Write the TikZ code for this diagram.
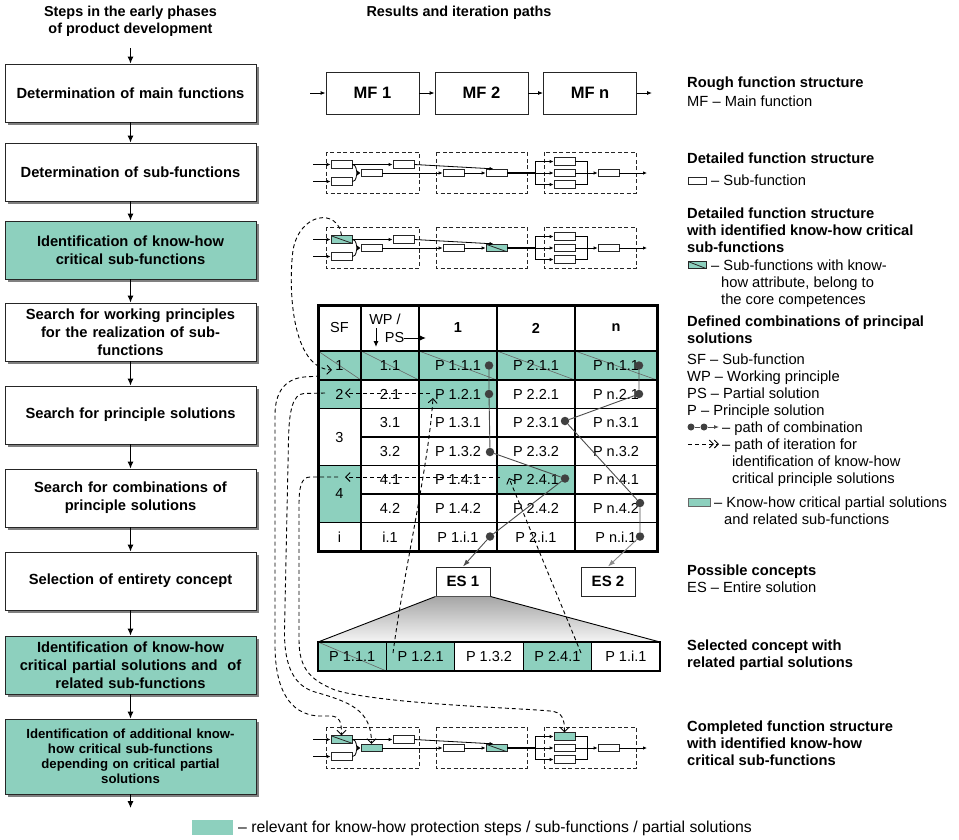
\documentclass[tikz,border=0pt]{standalone}
\usepackage{fontspec}
\setmainfont{Liberation Sans}
\usetikzlibrary{arrows.meta,shadows,calc}
\definecolor{kteal}{RGB}{141,208,190}
\newcommand{\fsz}[2]{\fontsize{#1pt}{#2pt}\selectfont}

\tikzset{
  stepbox/.style={draw=black!85, line width=0.9pt, fill=white, minimum width=251pt, minimum height=58pt,
    text width=244pt, align=center, inner sep=0pt, font=\bfseries\fsz{14.7}{18},
    drop shadow={shadow xshift=3pt, shadow yshift=-3pt, fill=black!50, opacity=1}},
  keystep/.style={stepbox, fill=kteal},
  flow/.style={-{Latex[length=7pt,width=6pt]}, line width=1pt},
  mfbox/.style={draw=black!85, line width=0.9pt, minimum width=93pt, minimum height=42pt, font=\bfseries\fsz{16.5}{19}},
  mfarrow/.style={-{Latex[length=5pt,width=4pt]}, line width=0.9pt},
  grp/.style={draw=black!85, dash pattern=on 4pt off 2.5pt, line width=0.8pt},
  sub/.style={draw=black!85, line width=0.8pt, fill=white, minimum width=21pt, minimum height=7.5pt, inner sep=0pt},
  critical/.style={fill=kteal},
  hatched/.style={fill=kteal, path picture={\draw[line width=0.8pt] (path picture bounding box.north west) -- (path picture bounding box.south east);}},
  fline/.style={line width=0.8pt},
  fmain/.style={line width=1.5pt},
  farrow/.style={-{Latex[length=4pt,width=3.5pt]}, line width=0.8pt},
  tcell/.style={font=\fsz{14.5}{16}, inner sep=0pt},
  thead/.style={font=\bfseries\fsz{14.5}{16}, inner sep=0pt},
  tgrid/.style={line width=1.2pt},
  diag/.style={draw=black!60, line width=0.6pt},
  cdot/.style={circle, fill=black!75, inner sep=0pt, minimum size=8.5pt},
  cline/.style={draw=black!70, line width=0.9pt},
  iter/.style={dash pattern=on 4pt off 3pt, line width=0.9pt},
  itip/.style={-{Straight Barb[length=4.5pt,width=9pt,line width=0.9pt]}},
  esbox/.style={draw=black!85, line width=1pt, fill=white, minimum width=54pt, minimum height=29pt, font=\bfseries\fsz{15}{17}},
  stripcell/.style={draw=black, line width=1.2pt, minimum width=68.4pt, minimum height=29pt, font=\fsz{14.5}{16}, inner sep=0pt},
  lgb/.style={anchor=base west, font=\bfseries\fsz{14.7}{17}, inner sep=0pt},
  lgt/.style={anchor=base west, font=\fsz{14.7}{17}, inner sep=0pt},
}

% one detailed function structure: prefix, vertical offset, styles of boxes a, c, f and g
\newcommand{\fsdiagram}[6]{%
\begin{scope}[shift={(0,#2)}]
  \draw[grp] (326,152) rectangle (419,193);
  \draw[grp] (436,152) rectangle (527,193);
  \draw[grp] (544,152) rectangle (636,193);
  \node[sub,#3] (#1a) at (341.5,164.5) {};
  \node[sub] (#1b) at (341.5,181.5) {};
  \node[sub,#4] (#1c) at (371.5,173) {};
  \node[sub] (#1d) at (403.5,164.5) {};
  \node[sub] (#1e) at (453.5,173) {};
  \node[sub,#5] (#1f) at (496.5,173) {};
  \node[sub,#6] (#1g) at (564.5,161.5) {};
  \node[sub] (#1h) at (564.5,173) {};
  \node[sub] (#1k) at (564.5,184.5) {};
  \node[sub] (#1m) at (608.5,173) {};
  \coordinate (#1i1) at (313,164.5);
  \coordinate (#1i2) at (313,181.5);
  \coordinate (#1j1) at (535,161.5);
  \coordinate (#1j2) at (535,173);
  \coordinate (#1j3) at (535,184.5);
  \coordinate (#1r1) at (587,161.5);
  \coordinate (#1r2) at (587,173);
  \coordinate (#1r3) at (587,184.5);
  \coordinate (#1o) at (647,173);
  \draw[farrow] (#1i1) -- (#1a.west);
  \draw[farrow] (#1i2) -- (#1b.west);
  \draw[farrow] (#1a.east) -- (#1d.west);
  \draw[farrow] (#1a.east) .. controls (357,164.5) and (356,172) .. (#1c.west);
  \draw[farrow] (#1b.east) .. controls (357,181.5) and (356,174) .. (#1c.west);
  \draw[farrow] (#1d.east) -- ([xshift=-3pt]#1f.north);
  \draw[farrow] (#1c.east) -- (#1e.west);
  \draw[farrow] (#1e.east) -- (#1f.west);
  \draw[fmain] (#1f.east) -- (#1j2);
  \draw[fline] (#1j1) -- (#1j3);
  \draw[farrow] (#1j1) -- (#1g.west);
  \draw[farrow] (#1j2) -- (#1h.west);
  \draw[farrow] (#1j3) -- (#1k.west);
  \draw[fline] (#1g.east) -- (#1r1) -- (#1r3) -- (#1k.east);
  \draw[fline] (#1h.east) -- (#1r2);
  \draw[farrow] (#1r2) -- (#1m.west);
  \draw[farrow] (#1m.east) -- (#1o);
\end{scope}}

\begin{document}
\begin{tikzpicture}[x=1pt,y=-1pt]
\useasboundingbox (0,0) rectangle (959,839);

% ---------- headings ----------
\node[font=\bfseries\fsz{14.4}{16.5}, align=center] (hdl) at (130.5,21.5) {Steps in the early phases\\of product development};
\node[font=\bfseries\fsz{14.4}{16.5}] (hdr) at (459,13) {Results and iteration paths};

% ---------- process steps ----------
\node[stepbox] (s1) at (130.5,93) {Determination of main functions};
\node[stepbox] (s2) at (130.5,172) {Determination of sub-functions};
\node[keystep] (s3) at (130.5,250) {Identification of know-how\\critical sub-functions};
\node[stepbox] (s4) at (130.5,332) {Search for working principles\\for the realization of sub-\\functions};
\node[stepbox] (s5) at (130.5,415) {Search for principle solutions};
\node[stepbox] (s6) at (130.5,498) {Search for combinations of\\principle solutions};
\node[stepbox] (s7) at (130.5,581) {Selection of entirety concept};
\node[keystep] (s8) at (130.5,665) {Identification of know-how\\critical partial solutions and~ of\\related sub-functions};
\node[keystep, minimum height=75pt, font=\bfseries\fsz{13.2}{15}] (s9) at (130.5,756.5) {Identification of additional know-\\how critical sub-functions\\depending on critical partial\\solutions};
\coordinate (sbeg) at (130.5,48);
\coordinate (send) at (130.5,808);
\draw[flow] (sbeg) -- (s1.north);
\foreach \a/\b in {s1/s2,s2/s3,s3/s4,s4/s5,s5/s6,s6/s7,s7/s8,s8/s9}
  \draw[flow] (\a.south) -- (\b.north);
\draw[flow] (s9.south) -- (send);

% ---------- rough function structure ----------
\node[mfbox] (mf1) at (372.5,93) {MF 1};
\node[mfbox] (mf2) at (481.5,93) {MF 2};
\node[mfbox] (mfn) at (590,93) {MF n};
\coordinate (mfin) at (310,93);
\coordinate (mfout) at (652,93);
\draw[mfarrow] (mfin) -- (mf1.west);
\draw[mfarrow] (mf1.east) -- (mf2.west);
\draw[mfarrow] (mf2.east) -- (mfn.west);
\draw[mfarrow] (mfn.east) -- (mfout);

% ---------- detailed function structures ----------
\fsdiagram{fa}{0}{}{}{}{}
\fsdiagram{fb}{75}{hatched}{}{hatched}{}
\fsdiagram{fc}{575}{hatched}{critical}{hatched}{critical}

% ---------- morphological table ----------
\fill[kteal] (318,351) rectangle (657,380);
\fill[kteal] (318,380) rectangle (361,408.5);
\fill[kteal] (419,380) rectangle (497,408.5);
\fill[kteal] (318,465.5) rectangle (361,522.5);
\fill[kteal] (497,465.5) rectangle (575,494);
\draw[diag] (318,351) -- (361,380);
\draw[diag] (361,351) -- (419,380);
\draw[diag] (419,351) -- (497,380);
\draw[diag] (497,351) -- (575,380);
\draw[diag] (575,351) -- (657,380);
\draw[tgrid] (318,351) -- (657,351);
\draw[tgrid] (318,380) -- (657,380);
\draw[tgrid] (318,408.5) -- (657,408.5);
\draw[tgrid] (361,437) -- (657,437);
\draw[tgrid] (318,465.5) -- (657,465.5);
\draw[tgrid] (361,494) -- (657,494);
\draw[tgrid] (318,522.5) -- (657,522.5);
\foreach \x in {361,419,497,575} \draw[tgrid] (\x,305) -- (\x,551);
\draw[line width=3pt] (318,305) rectangle (657,551);

\node[tcell] (hsf) at (339.5,328) {SF};
\node[tcell] (hwp) at (385,319) {WP /};
\node[tcell] (hps) at (394.5,338) {PS};
\coordinate (hdn1) at (376,328);
\coordinate (hdn2) at (376,347);
\coordinate (hrt) at (426,338);
\draw[-{Latex[length=6pt,width=5pt]}, line width=1pt] (hdn1) -- (hdn2);
\draw[-{Latex[length=6pt,width=5pt]}, line width=1pt] (hps.east) -- (hrt);
\node[thead] (h1) at (458,328) {1};
\node[thead] (h2) at (536,328) {2};
\node[thead] (hn) at (616,328) {n};

\node[tcell] (sf1) at (339.5,365.5) {1};
\node[tcell] (sf2) at (339.5,394.25) {2};
\node[tcell] (sf3) at (339.5,437) {3};
\node[tcell] (sf4) at (339.5,494) {4};
\node[tcell] (sfi) at (339.5,536.75) {i};
\foreach \y/\t in {365.5/1.1, 394.25/2.1, 422.75/3.1, 451.25/3.2, 479.75/4.1, 508.25/4.2, 536.75/i.1}
  \node[tcell] at (390,\y) {\t};
\foreach \c/\x in {1/458, 2/536, n/616}
  \foreach \y/\t in {365.5/1.1, 394.25/2.1, 422.75/3.1, 451.25/3.2, 479.75/4.1, 508.25/4.2, 536.75/i.1}
    \node[tcell] at (\x,\y) {P \c.\t};

% paths of combination
\node[cdot] (cd1) at (489,365.5) {};
\node[cdot] (cd2) at (489,394) {};
\node[cdot] (cd3) at (490,452) {};
\node[cdot] (cd4) at (565,478.5) {};
\node[cdot] (cd5) at (490,536.5) {};
\node[cdot] (ce1) at (639,365.5) {};
\node[cdot] (ce2) at (639,394) {};
\node[cdot] (ce3) at (565,421) {};
\node[cdot] (ce4) at (640,503) {};
\node[cdot] (ce5) at (640,536.5) {};
\draw[cline] (cd1) -- (cd2) -- (cd3) -- (cd4) -- (cd5);
\draw[cline] (ce1) -- (ce2) -- (ce3) -- (ce4) -- (ce5);

% ---------- possible concepts ----------
\node[esbox] (es1) at (463,581.5) {ES 1};
\node[esbox] (es2) at (608,581.5) {ES 2};
\draw[cline, -{Latex[length=7pt,width=5pt]}] (cd5) -- (es1.north);
\draw[draw=black!45, line width=0.9pt, -{Latex[length=7pt,width=5pt]}] (ce5) -- (es2.north);

% ---------- selected concept ----------
\coordinate (trl) at (318,642);
\coordinate (trr) at (660,642);
\shade[top color=black!35, bottom color=black!4] (es1.south west) -- (es1.south east) -- (trr) -- (trl) -- cycle;
\draw[line width=0.9pt] (es1.south west) -- (trl);
\draw[line width=0.9pt] (es1.south east) -- (trr);
\node[stripcell, fill=kteal, path picture={\draw[diag] (path picture bounding box.north west) -- (path picture bounding box.south east);}] (sc1) at (352.2,656.5) {P 1.1.1};
\node[stripcell, fill=kteal] (sc2) at (420.6,656.5) {P 1.2.1};
\node[stripcell, fill=white] (sc3) at (489,656.5) {P 1.3.2};
\node[stripcell, fill=kteal] (sc4) at (557.4,656.5) {P 2.4.1};
\node[stripcell, fill=white] (sc5) at (625.8,656.5) {P 1.i.1};
\draw[line width=2pt] (318,642) rectangle (660,671);

% ---------- iteration paths ----------
\coordinate (sf1in) at (332,370);
\draw[iter,itip] (fba.north) .. controls (338,208) and (300,212) .. (293,250) .. controls (288,290) and (292,368) .. (sf1in);

\coordinate (pa0) at (393,653);
\coordinate (pa1) at (433,398);
\draw[iter,itip] (pa0) .. controls (404,570) and (428,470) .. (pa1);
\coordinate (pb0) at (581,653);
\coordinate (pb1) at (509,478);
\draw[iter,itip] (pb0) -- (pb1);

\coordinate (r2a) at (430,393);
\coordinate (r2b) at (345,393);
\draw[iter,itip] (r2a) -- (r2b);
\coordinate (r4a) at (500,477);
\coordinate (r4b) at (345,477);
\draw[iter,itip] (r4a) -- (r4b);

\coordinate (o0) at (320,376);
\draw[iter,itip] (o0) -- (304,377) .. controls (285,379) and (275,392) .. (275,415) -- (275,645)
  .. controls (275,690) and (290,714) .. (318,716) -- (330,716) .. controls (340,716) and (341.5,722) .. (fca.north);
\coordinate (m0) at (325,393);
\draw[iter,itip] (m0) -- (304,393.5) .. controls (293,394) and (289,410) .. (288.5,440) -- (284.5,630)
  .. controls (284,668) and (295,686) .. (315,692) .. controls (350,702) and (371.5,710) .. (fcc.north);
\coordinate (n0) at (338,477);
\draw[iter,itip] (n0) -- (310,477) .. controls (301,477) and (299,488) .. (299,505) -- (299,640)
  .. controls (299,668) and (310,680) .. (335,690) .. controls (380,704) and (520,708) .. (550,711)
  .. controls (562,712) and (564.5,718) .. (fcg.north);

% ---------- legend ----------
\node[lgb] (l1) at (687,87) {Rough function structure};
\node[lgt] (l2) at (687,106) {MF – Main function};
\node[lgb] (l3) at (687,163.5) {Detailed function structure};
\node[sub, minimum width=18pt, minimum height=7pt] (ls1) at (697,180.5) {};
\node[lgt] (l4) at (711,185.5) {– Sub-function};
\node[lgb] (l5) at (687,218) {Detailed function structure};
\node[lgb] (l6) at (687,235) {with identified know-how critical};
\node[lgb] (l7) at (687,252) {sub-functions};
\node[sub, hatched, minimum width=18pt, minimum height=7pt] (ls2) at (697,265) {};
\node[lgt] (l8) at (711,270) {– Sub-functions with know-};
\node[lgt] (l9) at (721,287) {how attribute, belong to};
\node[lgt] (l10) at (721,304) {the core competences};
\node[lgb] (l11) at (687,326) {Defined combinations of principal};
\node[lgb] (l12) at (687,343) {solutions};
\node[lgt] (l13) at (687,364) {SF – Sub-function};
\node[lgt] (l14) at (687,381) {WP – Working principle};
\node[lgt] (l15) at (687,398) {PS – Partial solution};
\node[lgt] (l16) at (687,415) {P – Principle solution};
\node[cdot, minimum size=7pt] (lc1) at (691,427) {};
\node[cdot, minimum size=7pt] (lc2) at (704,427) {};
\coordinate (lc3) at (719,427);
\draw[cline] (lc1) -- (lc2);
\draw[cline, -{Latex[length=5pt,width=4pt]}] (lc2) -- (lc3);
\node[lgt] (l17) at (722,432) {– path of combination};
\coordinate (li0) at (688,444);
\coordinate (li1) at (719,444);
\draw[iter, -{Straight Barb[length=4pt,width=8pt,line width=0.9pt] Straight Barb[length=4pt,width=8pt,line width=0.9pt]}] (li0) -- (li1);
\node[lgt] (l18) at (722,449) {– path of iteration for};
\node[lgt] (l19) at (732,466) {identification of know-how};
\node[lgt] (l20) at (732,483) {critical principle solutions};
\node[draw=black!60, line width=0.6pt, fill=kteal, minimum width=22pt, minimum height=8pt, inner sep=0pt] (ls3) at (699,502) {};
\node[lgt] (l21) at (714,507) {– Know-how critical partial solutions};
\node[lgt] (l22) at (724,524) {and related sub-functions};
\node[lgb] (l23) at (687,575) {Possible concepts};
\node[lgt] (l24) at (687,592.5) {ES – Entire solution};
\node[lgb] (l25) at (687,650) {Selected concept with};
\node[lgb] (l26) at (687,667.5) {related partial solutions};
\node[lgb] (l27) at (687,731) {Completed function structure};
\node[lgb] (l28) at (687,748) {with identified know-how};
\node[lgb] (l29) at (687,765) {critical sub-functions};

\node[fill=kteal, minimum width=41pt, minimum height=15pt, inner sep=0pt] (lb) at (212.5,827) {};
\node[anchor=base west, font=\fsz{15.8}{18}, inner sep=0pt] (lbt) at (238,832) {– relevant for know-how protection steps / sub-functions / partial solutions};
\end{tikzpicture}
\end{document}
